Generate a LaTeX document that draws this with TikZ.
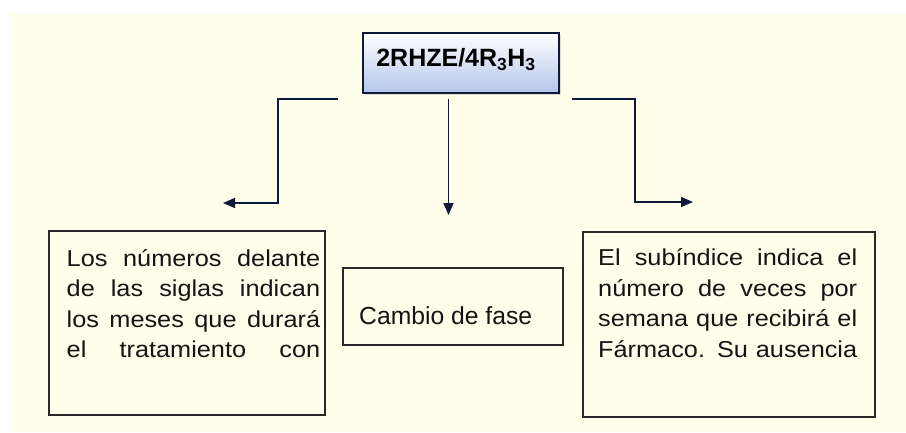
\documentclass[tikz,border=0pt]{standalone}
\usepackage{fontspec}
\setmainfont{Liberation Sans}
\newfontfamily\widefont[FakeStretch=1.1]{Liberation Sans}
\usetikzlibrary{arrows.meta,shadows}
\definecolor{cream}{RGB}{255,254,234}
\definecolor{navy}{RGB}{16,24,56}
\definecolor{boxblue}{RGB}{178,197,234}
\definecolor{framegray}{RGB}{40,40,40}
\begin{document}
\begin{tikzpicture}
[x=1pt, y=-1pt, every node/.style={inner sep=0pt},
 box/.style={rectangle, draw=framegray, line width=1.3pt, fill=cream},
 note/.style={text width=#1, align=justify, anchor=north west, text=black!92,
   font=\widefont\fontsize{23pt}{30.5pt}\selectfont},
 link/.style={line width=1.6pt, color=navy},
 arrowed/.style={-{Triangle[length=12pt, width=10pt]}}]
\useasboundingbox (0,0) rectangle (906,432);
\fill [white] (0,0) rectangle (906,432);
\fill [cream] (9,14) rectangle (906,432);
% top box
\node (regimen) [rectangle, minimum width=196pt, minimum height=60pt, draw=navy, line width=1.4pt,
  top color=white, bottom color=boxblue,
  drop shadow={shadow xshift=2pt, shadow yshift=-2pt, opacity=0.25}] at (461, 63) {};
\node (regimentext) [anchor=base, font=\bfseries\fontsize{25pt}{30pt}\selectfont] at (456, 66.7)
  {2RHZE/4R\textsubscript{3}H\textsubscript{3}};
% lower boxes
\node (meses) [box, minimum width=276pt, minimum height=184pt] at (187, 323) {};
\node (mesestext) [note=253.5pt] at (66.5, 249)
  {\hyphenpenalty=10000\hbadness=10000
   Los números delante\linebreak de las siglas indican\linebreak los meses que durará\linebreak el tratamiento con\linebreak\mbox{}};
\node (fase) [box, minimum width=220pt, minimum height=77pt] at (453, 306.5) {};
\node (fasetext) [anchor=base west, font=\fontsize{24.7pt}{30pt}\selectfont, text=black!92] at (359, 324)
  {Cambio de fase};
\node (veces) [box, minimum width=292pt, minimum height=185pt] at (729, 324.5) {};
\node (vecestext) [note=259pt] at (598, 248.5)
  {\hyphenpenalty=10000\hbadness=10000
   El subíndice indica el\linebreak número de veces por\linebreak semana que recibirá el\linebreak Fármaco. Su ausencia\linebreak\mbox{}};
% connectors
\coordinate (lstart) at (338, 99);
\coordinate (lbend) at (278, 203);
\coordinate (lend) at (223, 203);
\coordinate (mstart) at (448.5, 99);
\coordinate (mend) at (448.5, 215);
\coordinate (rstart) at (572, 99);
\coordinate (rbend) at (635, 202);
\coordinate (rend) at (693, 202);
\draw [link, arrowed] (lstart) -| (lbend) -- (lend);
\draw [link, arrowed] (mstart) -- (mend);
\draw [link, arrowed] (rstart) -| (rbend) -- (rend);
\end{tikzpicture}
\end{document}
